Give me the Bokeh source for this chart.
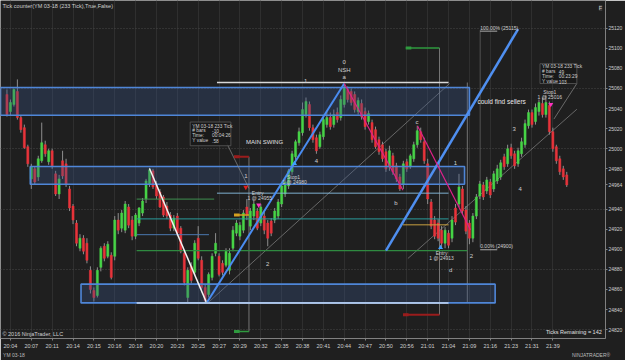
from bokeh.plotting import figure
from bokeh.models import FixedTicker, Label, LinearAxis
from bokeh.embed import file_html
from bokeh.resources import INLINE

# ---------------- data ----------------
bars = list(range(-1, 161))
opens = [25054, 25037, 25044, 25057, 25031, 25021, 25002, 24970, 24980, 24972, 24988,
         25004, 24987, 24998, 24975, 24955, 24988, 24985, 24960, 24943, 24926,
         24901, 24911, 24906, 24879, 24859, 24854, 24882, 24903, 24893, 24894,
         24893, 24929, 24921, 24919, 24942, 24929, 24913, 24926, 24936, 24950,
         24965, 24978, 24965, 24957, 24952, 24943, 24934, 24921, 24933, 24921,
         24896, 24852, 24883, 24877, 24911, 24889, 24862, 24855, 24872, 24896,
         24893, 24886, 24884, 24879, 24901, 24916, 24913, 24919, 24942, 24923,
         24933, 24938, 24926, 24933, 24926, 24928, 24929, 24933, 24945, 24955,
         24963, 24977, 24992, 25006, 25016, 25034, 25044, 25021, 25011, 25002,
         25012, 25024, 25031, 25024, 25036, 25031, 25044, 25059, 25057, 25054,
         25037, 25045, 25037, 25027, 25026, 25019, 25009, 25004, 24997, 24982,
         24993, 24983, 24972, 24965, 24987, 24982, 24990, 25004, 25017, 25007,
         24985, 24947, 24929, 24926, 24919, 24906, 24916, 24911, 24941, 24945,
         24960, 24939, 24926, 24911, 24933, 24953, 24964, 24958, 24967, 24960,
         24968, 24972, 24992, 24985, 25001, 24995, 24985, 24995, 25004, 25023,
         25036, 25027, 25037, 25045, 25034, 25043, 25017, 25002, 24990, 24980, 24974]
highs = [25059, 25049, 25060, 25069, 25033, 25024, 25004, 24985, 24982, 24993, 25026,
         25008, 25000, 25000, 24978, 24974, 24998, 24990, 24963, 24945, 24929,
         24915, 24914, 24911, 24883, 24862, 24882, 24903, 24906, 24908, 24897,
         24933, 24936, 24939, 24948, 24945, 24933, 24936, 24942, 24951, 24970,
         24981, 24980, 24968, 24960, 24954, 24947, 24937, 24934, 24936, 24923,
         24899, 24882, 24887, 24909, 24923, 24893, 24865, 24877, 24896, 24916,
         24896, 24889, 24901, 24901, 24923, 24929, 24927, 24939, 24950, 24941,
         24948, 24941, 24945, 24937, 24929, 24931, 24941, 24950, 24965, 24970,
         24980, 24998, 25009, 25021, 25046, 25051, 25047, 25024, 25014, 25017,
         25031, 25037, 25036, 25039, 25041, 25053, 25064, 25062, 25060, 25057,
         25051, 25049, 25041, 25038, 25029, 25022, 25012, 25007, 25000, 25003,
         24996, 24986, 24975, 24988, 24990, 24995, 25007, 25023, 25021, 25011,
         24990, 24950, 24933, 24930, 24923, 24922, 24919, 24933, 24945, 24975,
         24963, 24943, 24929, 24936, 24955, 24968, 24967, 24972, 24970, 24978,
         24984, 24989, 24995, 25004, 25005, 24998, 25001, 25011, 25029, 25039,
         25039, 25045, 25049, 25051, 25053, 25047, 25021, 25004, 24993, 24983, 24977]
lows = [25032, 25033, 25042, 25029, 25016, 25000, 24982, 24960, 24964, 24968, 24986,
        24992, 24984, 24980, 24953, 24950, 24970, 24962, 24938, 24925, 24903,
        24898, 24895, 24886, 24856, 24848, 24852, 24878, 24888, 24891, 24870,
        24889, 24915, 24917, 24916, 24921, 24909, 24910, 24923, 24933, 24946,
        24962, 24960, 24950, 24941, 24932, 24930, 24918, 24918, 24913, 24896,
        24864, 24847, 24866, 24874, 24889, 24860, 24846, 24852, 24869, 24893,
        24873, 24874, 24882, 24875, 24898, 24913, 24909, 24916, 24929, 24919,
        24929, 24919, 24923, 24915, 24903, 24913, 24926, 24930, 24942, 24952,
        24960, 24974, 24989, 25003, 25013, 25031, 25018, 25006, 24995, 25000,
        25009, 25021, 25019, 25021, 25026, 25028, 25041, 25046, 25043, 25036,
        25034, 25029, 25019, 25024, 25006, 25000, 24994, 24987, 24977, 24978,
        24974, 24967, 24958, 24960, 24977, 24980, 24987, 25001, 25006, 24985,
        24945, 24920, 24910, 24908, 24902, 24901, 24901, 24907, 24924, 24942,
        24935, 24915, 24905, 24907, 24930, 24950, 24949, 24955, 24951, 24957,
        24965, 24969, 24979, 24982, 24990, 24980, 24982, 24992, 25001, 25020,
        25021, 25024, 25033, 25031, 25031, 25014, 24997, 24985, 24974, 24969, 24962]
closes = [25034, 25046, 25059, 25031, 25019, 25001, 24985, 24982, 24967, 24990, 25006,
          24995, 24998, 24983, 24955, 24970, 24973, 24965, 24941, 24929, 24906,
          24911, 24898, 24889, 24860, 24852, 24879, 24901, 24891, 24905, 24872,
          24929, 24919, 24936, 24945, 24924, 24913, 24934, 24941, 24948, 24968,
          24979, 24962, 24953, 24942, 24934, 24933, 24921, 24931, 24916, 24898,
          24867, 24879, 24869, 24906, 24891, 24862, 24849, 24875, 24893, 24906,
          24875, 24877, 24898, 24896, 24919, 24926, 24924, 24936, 24934, 24938,
          24945, 24921, 24942, 24919, 24911, 24916, 24938, 24947, 24963, 24967,
          24978, 24995, 25007, 25017, 25039, 25047, 25021, 25009, 24998, 25014,
          25029, 25031, 25022, 25034, 25029, 25049, 25060, 25049, 25046, 25039,
          25048, 25032, 25022, 25035, 25009, 25002, 24997, 24990, 24980, 24998,
          24977, 24970, 24960, 24985, 24980, 24993, 25004, 25018, 25009, 24988,
          24950, 24923, 24913, 24911, 24906, 24919, 24904, 24929, 24927, 24962,
          24938, 24918, 24911, 24933, 24952, 24965, 24952, 24969, 24954, 24975,
          24980, 24986, 24982, 25000, 24993, 24983, 24998, 25007, 25025, 25036,
          25024, 25041, 25046, 25034, 25046, 25017, 25000, 24988, 24977, 24972, 24964]
time_labels = ["20:04", "20:07", "20:11", "20:14", "20:15", "20:16", "20:18", "20:20",
               "20:23", "20:25", "20:27", "20:29", "20:32", "20:35", "20:38", "20:41",
               "20:44", "20:47", "20:50", "20:56", "21:01", "21:04", "21:09", "21:16",
               "21:23", "21:31", "21:39"]
label_bars = [6 * k for k in range(len(time_labels))]
last_price = 24964
price_ticks = [24820, 24840, 24860, 24880, 24900, 24920, 24940, last_price, 24980,
               25000, 25020, 25040, 25060, 25080, 25100, 25120]
grid_prices = [24820, 24880, 24940, 25000, 25060, 25120]

FONT = "Liberation Sans"
BG = "#1f1f1f"
TXT = "#cfcfcf"

p = figure(width=625, height=360, x_range=(-2.857, 171.14), y_range=(24811.2, 25147.5),
           output_backend="svg", toolbar_location=None, y_axis_location="right",
           background_fill_color=BG, border_fill_color=BG,
           min_border_left=0, min_border_top=0, min_border_right=10, min_border_bottom=10)
p.outline_line_color = None

# axes
for ax in (p.xaxis[0], p.yaxis[0]):
    ax.axis_line_color = "#808080"
    ax.major_tick_line_color = "#808080"
    ax.minor_tick_line_color = None
    ax.major_tick_out = 2
    ax.major_tick_in = 0
    ax.major_label_text_color = TXT
    ax.major_label_text_font = FONT
    ax.major_label_text_font_size = "5.5px"
    ax.major_label_standoff = 2
p.yaxis.major_label_text_font_size = "5px"
p.yaxis.major_label_standoff = 1
p.xaxis.ticker = FixedTicker(ticks=label_bars)
p.xaxis.major_label_overrides = {b: t for b, t in zip(label_bars, time_labels)}
p.yaxis.ticker = FixedTicker(ticks=price_ticks)
p.yaxis.major_label_overrides = {last_price: str(last_price)}
p.xgrid.ticker = FixedTicker(ticks=label_bars)
p.xgrid.grid_line_color = "#2f2f2f"
p.ygrid.ticker = FixedTicker(ticks=grid_prices)
p.ygrid.grid_line_color = "#484848"
p.ygrid.grid_line_dash = "1 2"

# footer axis carrying the instrument name and the vendor logo text
foot = LinearAxis(ticker=FixedTicker(ticks=[1, 167]),
                  major_label_overrides={1: "YM 03-18", 167: "NINJATRADER\u00ae"},
                  axis_line_color=None, major_tick_line_color=None, minor_tick_line_color=None,
                  major_tick_out=0, major_tick_in=0, major_label_standoff=0,
                  major_label_text_font=FONT, major_label_text_font_size="5px",
                  major_label_text_color="#bdbdbd")
p.add_layout(foot, "below")

# thin lines behind candles
back_lines = [
    (57.1, 24847.6, 126.3, 25064.9, "#7a7a7a", 0.8),
    (114.3, 24890.8, 162.9, 25039.3, "#7a7a7a", 0.8),
    (68.6, 24992.1, 68.6, 24818.1, "#8a8a8a", 0.8),
    (123.4, 25100.3, 123.4, 24834.8, "#8a8a8a", 0.8),
    (131.4, 25065.9, 131.4, 24846.6, "#8a8a8a", 0.8),
    (135.1, 25118.0, 135.1, 24901.7, "#5e5e5e", 0.8),
]
for x0, y0, x1, y1, c, w in back_lines:
    p.segment(x0=[x0], y0=[y0], x1=[x1], y1=[y1], line_color=c, line_width=w)

# candles
up = [c >= o for o, c in zip(opens, closes)]
body_top = [max(o, c) for o, c in zip(opens, closes)]
body_bot = [min(o, c) for o, c in zip(opens, closes)]
colors = ["#47d447" if u else "#e8333a" for u in up]
p.segment(x0=bars, y0=lows, x1=bars, y1=highs, line_color="#8e8e8e", line_width=1)
p.vbar(x=bars, width=0.6, top=body_top, bottom=body_bot, fill_color=colors,
       line_color=colors, line_width=0.5)

# zones
zones = [(-2.86, 132.0, 25033.4, 25061.0), (5.71, 130.6, 24964.6, 24982.3),
         (20.3, 139.4, 24846.6, 24865.3)]
for l, r, b, t in zones:
    p.quad(left=[l], right=[r], bottom=[b], top=[t], fill_color="#3a5688",
           fill_alpha=0.33, line_color="#4f86d8", line_width=1.6)

# horizontal / drawn lines
lines = [
    (59.4, 25065.9, 126.0, 25065.9, "#d8d8d8", 1.5),
    (59.4, 24955.8, 126.0, 24955.8, "#7fb0d0", 1.0),
    (36.3, 24949.9, 58.6, 24949.9, "#3f8f4f", 1.0),
    (36.3, 24930.2, 126.0, 24930.2, "#2a9d9d", 1.0),
    (112.9, 24924.3, 126.0, 24924.3, "#c8a040", 1.0),
    (36.3, 24914.5, 57.1, 24914.5, "#4a78b0", 1.0),
    (36.3, 24898.7, 131.4, 24898.7, "#2f8a40", 1.2),
    (36.3, 24846.6, 126.0, 24846.6, "#c8d8f0", 1.5),
    (113.4, 24834.8, 123.4, 24834.8, "#9a1c1c", 2.0),
    (64.3, 24992.1, 68.6, 24992.1, "#9a1c1c", 2.0),
    (113.7, 25100.3, 123.4, 25100.3, "#2f9a3f", 1.5),
    (64.3, 24818.1, 68.6, 24818.1, "#2f9a3f", 1.5),
    (64.3, 24934.1, 68.6, 24934.1, "#d4a020", 1.5),
    (135.1, 25117.0, 140.0, 25117.0, "#d0d0d0", 0.8),
    (135.1, 24899.5, 140.0, 24899.5, "#d0d0d0", 0.8),
    (62.0, 25006.9, 68.6, 24960.6, "#8a8a8a", 0.7),
    (162.9, 25064.9, 156.3, 25029.5, "#8a8a8a", 0.7),
    (56.6, 24847.6, 96.0, 25064.9, "#4a8cf0", 2.0),
    (108.0, 24898.7, 146.0, 25119.0, "#4f8ff0", 2.5),
    (40.0, 24980.3, 56.3, 24847.6, "#f2f2f2", 1.5),
    (96.0, 25064.9, 112.9, 24958.7, "#e0208a", 1.2),
    (117.1, 25022.6, 132.3, 24919.4, "#e0208a", 1.2),
]
for x0, y0, x1, y1, c, w in lines:
    p.segment(x0=[x0], y0=[y0], x1=[x1], y1=[y1], line_color=c, line_width=w)

# small tag boxes at the left end of order lines
tags = [(64.3, 65.9, 24816.6, 24819.6, "#2f9a3f"), (64.3, 65.9, 24990.6, 24993.6, "#9a1c1c"),
        (64.3, 65.9, 24932.6, 24935.6, "#d4a020"), (113.7, 115.3, 25098.8, 25101.8, "#2f9a3f"),
        (112.9, 114.5, 24833.3, 24836.3, "#9a1c1c")]
for l, r, b, t, c in tags:
    p.quad(left=[l], right=[r], bottom=[b], top=[t], fill_color=c, line_color=None)

# tooltip boxes
for l, r, b, t in [(51.7, 63.4, 25003.0, 25026.6), (152.3, 162.9, 25064.9, 25084.6)]:
    p.quad(left=[l], right=[r], bottom=[b], top=[t], fill_color="#181818",
           fill_alpha=0.9, line_color="#5a5a5a", line_width=0.8)

# arrows
p.scatter(x=[67.7], y=[24961.7], marker="inverted_triangle", size=5, fill_color="#e02020", line_color=None)
p.scatter(x=[81.7, 123.7], y=[24985.3, 24901.7], marker="triangle", size=5, fill_color="#3fa0ff", line_color=None)
p.scatter(x=[155.4, 71.4], y=[25044.2, 24944.0], marker="inverted_triangle", size=5, fill_color="#ff30c0", line_color=None)


def txt(x, y, s, size="5.5px", color=TXT, align="left", base="middle", **kw):
    p.add_layout(Label(x=x, y=y, text=s, text_font=FONT, text_font_size=size,
                       text_color=color, text_align=align, text_baseline=base, **kw))


txt(-2.3, 25145.5, "Tick counter(YM 03-18 (233 Tick),True,False)", base="top")
for x, y, s in [(96, 25086.5, "0"), (96, 25078.7, "NSH"), (96, 25071.8, "a"),
                (84.9, 25067.9, "1"), (67.7, 24972.5, "1"), (128, 24986.2, "1"),
                (88, 24988.2, "4"), (146.6, 24959.7, "4"), (110.9, 24946, "b"),
                (116.9, 25026.6, "c"), (126.6, 24879, "d"), (74, 24885, "2"),
                (132.6, 24892.8, "2"), (144.9, 25019.7, "3")]:
    txt(x, y, s, size="6px", align="center")
txt(73.1, 25006.9, "MAIN SWING", size="6px", color="#e0e0e0", align="center")
txt(134.3, 25047.2, "could find sellers", size="6.5px", color="#e8e8e8")
txt(81.4, 24971.5, "Stop1", size="5px", align="center")
txt(81.7, 24966.6, "1 @ 24980", size="5px", align="center")
txt(71.1, 24955.8, "Entry", size="5px", align="center")
txt(71.7, 24951.4, "1 @ 24955", size="5px", align="center")
txt(124, 24895.8, "Entry", size="5px", align="center")
txt(124, 24890.8, "1 @ 24913", size="5px", align="center")
txt(155.1, 25056, "Stop1", size="5px", align="center")
txt(155.1, 25051.1, "1 @ 25016", size="5px", align="center")
txt(135.1, 25120.5, "100.00% (25115)", size="5px")
txt(135.1, 24903, "0.00% (24900)", size="5px")
txt(154.0, 24818.1, "Ticks Remaining = 142", size="5.5px", color="#e0e0e0")
txt(-2.3, 24815.2, "\u00a9 2016 NinjaTrader, LLC", size="5.5px")
txt(170.2, 25143.0, "F", size="5.5px", color="#cccccc", align="right", base="top",
    background_fill_color="#3a3a3a")
# tooltip texts
for i, (a, b) in enumerate([("YM 03-18 233 Tick", ""), ("# bars", "-10"),
                            ("Time:", "00:04:26"), ("Y value", ".58")]):
    y = 25022.6 - 4.9 * i
    txt(52.3, y, a, size="4.8px")
    if b:
        txt(58.0, y, b, size="4.8px")
for i, (a, b) in enumerate([("YM 03-18 233 Tick", ""), ("# bars", "49"),
                            ("Time:", "00:23:29"), ("Y value", "103")]):
    y = 25081.6 - 4.9 * i
    txt(152.9, y, a, size="4.8px")
    if b:
        txt(157.7, y, b, size="4.8px")

open("out.html", "w").write(file_html(p, INLINE))
